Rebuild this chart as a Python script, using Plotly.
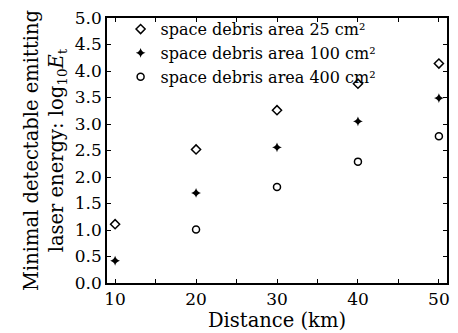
import plotly.graph_objects as go

distance = [10, 20, 30, 40, 50]
area25 = [1.11, 2.52, 3.26, 3.76, 4.14]
area100 = [0.42, 1.70, 2.56, 3.05, 3.49]
distance400 = [20, 30, 40, 50]
area400 = [1.01, 1.81, 2.29, 2.77]

font = "DejaVu Serif"
fig = go.Figure()
fig.add_trace(go.Scatter(x=distance, y=area25, mode="markers",
                         name="space debris area 25 cm²",
                         marker=dict(symbol="diamond-open", size=7, color="black", line=dict(width=1.5))))
fig.add_trace(go.Scatter(x=distance, y=area100, mode="markers",
                         name="space debris area 100 cm²",
                         marker=dict(symbol="star-diamond", size=7, color="black")))
fig.add_trace(go.Scatter(x=distance400, y=area400, mode="markers",
                         name="space debris area 400 cm²",
                         marker=dict(symbol="circle-open", size=7, color="black", line=dict(width=1.5))))

axis_common = dict(showgrid=False, zeroline=False, showline=True, linecolor="black", linewidth=1.5,
                   mirror="ticks", ticks="inside", ticklen=4, tickcolor="black",
                   tickfont=dict(family=font, size=17, color="black"))
fig.update_xaxes(range=[9, 51], tickvals=[10, 20, 30, 40, 50], ticktext=["10", "20", "30", "40", "50"],
                 minor=dict(dtick=5, tick0=0, ticks="inside", ticklen=4, tickcolor="black"),
                 title=dict(text="Distance (km)", font=dict(family=font, size=19.5, color="black"), standoff=0),
                 **axis_common)
fig.update_yaxes(range=[0, 5], dtick=0.5, tickformat=".1f",
                 title=dict(text="Minimal detectable emitting<br>laser energy: log<sub>10</sub><i>E</i><sub>t</sub>",
                            font=dict(family=font, size=19.5, color="black"), standoff=6),
                 **axis_common)
fig.update_layout(width=458, height=333, margin=dict(l=107, r=8, t=15, b=50),
                  paper_bgcolor="white", plot_bgcolor="white",
                  font=dict(family=font, size=16, color="black"),
                  legend=dict(x=0.04, y=1.022, xanchor="left", yanchor="top", bgcolor="rgba(0,0,0,0)",
                              font=dict(family=font, size=16, color="black"), itemwidth=30,
                              tracegroupgap=0),
                  showlegend=True)
fig.write_html("out.html", config={"displayModeBar": False},
               post_script="document.body.style.margin='0';")
